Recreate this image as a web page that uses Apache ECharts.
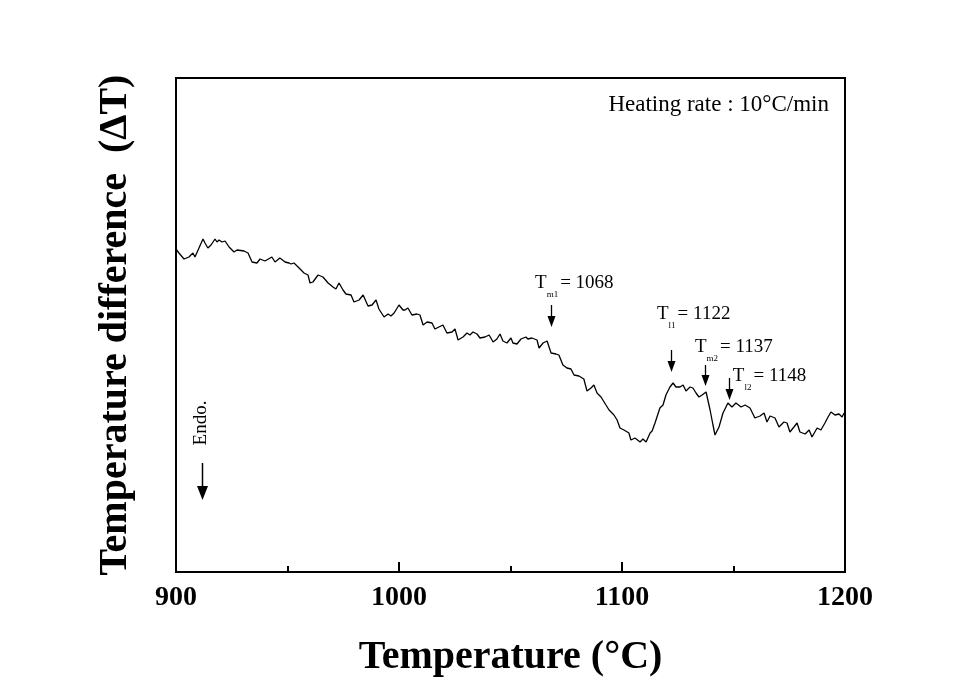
<!DOCTYPE html>
<html>
<head>
<meta charset="utf-8">
<script src="https://cdn.jsdelivr.net/npm/echarts@6/dist/echarts.min.js"></script>
<style>
html,body{margin:0;padding:0;background:#fff;}
#main{width:980px;height:685px;}
</style>
</head>
<body>
<div id="main"></div>
<script>
// ---- data (temperature in °C, ΔT in arbitrary units) ----
const temps = [900.0,901.3,903.6,905.8,907.6,908.5,910.3,912.1,913.0,914.3,
915.7,917.5,918.4,919.3,920.6,922.0,923.8,926.0,927.4,930.5,
932.3,934.1,936.3,937.7,939.9,943.0,944.4,946.6,948.9,950.7,
951.6,952.9,955.2,957.4,959.2,960.1,961.4,963.7,965.9,968.2,
970.4,971.7,973.1,974.9,976.2,978.5,979.8,982.1,983.9,986.1,
987.9,989.7,991.0,993.3,995.1,996.4,997.8,1000.0,1001.8,1002.7,
1004.0,1005.8,1008.1,1009.4,1010.8,1012.6,1014.8,1016.1,1017.9,1019.7,
1021.5,1023.8,1025.1,1026.5,1028.7,1030.5,1031.8,1033.2,1035.0,1036.3,
1038.6,1040.4,1042.2,1043.9,1045.3,1046.6,1048.4,1050.2,1051.1,1052.9,
1054.7,1056.9,1057.8,1059.6,1061.9,1062.8,1064.6,1066.4,1068.2,1070.4,
1071.7,1073.5,1075.3,1077.1,1078.5,1080.7,1082.9,1084.3,1086.1,1087.4,
1088.8,1090.6,1092.8,1094.2,1096.4,1097.8,1099.1,1100.9,1103.1,1104.0,
1105.8,1108.1,1109.4,1110.8,1112.6,1113.5,1114.8,1117.0,1118.4,1119.7,
1121.5,1122.9,1124.2,1126.0,1127.4,1128.7,1130.5,1131.8,1133.2,1134.5,
1135.9,1137.7,1139.5,1140.8,1141.7,1143.5,1145.3,1147.5,1149.3,1151.1,
1153.4,1155.2,1157.4,1159.6,1161.9,1163.7,1165.0,1166.4,1168.6,1170.4,
1172.6,1174.0,1175.3,1177.1,1178.5,1179.8,1182.1,1183.9,1185.2,1187.5,
1189.2,1191.0,1192.4,1193.7,1195.5,1197.3,1198.7,1199.6];

const dT = [323,319,313,315,319,315,324,333,329,324,
327,333,330,332,330,331,325,320,322,321,
319,310,309,313,311,315,310,314,310,309,
308,309,304,299,297,289,290,297,295,289,
285,283,289,282,278,277,270,272,277,266,
267,272,263,255,258,256,259,267,262,262,
264,257,258,257,247,250,249,243,245,247,
239,240,243,232,235,239,237,240,238,234,
235,237,230,233,238,231,229,234,229,228,
233,235,233,234,232,224,229,231,219,218,
217,207,204,203,197,196,193,181,184,187,
179,175,167,162,157,152,144,142,139,132,
134,130,133,130,139,141,149,164,167,177,
185,189,185,185,187,181,185,184,179,175,
177,180,162,147,137,145,159,169,165,169,
165,167,164,154,156,159,150,156,154,145,
150,149,140,145,149,140,138,142,135,144,
142,149,155,160,157,158,155,159];

const xTickLabels = [900, 1000, 1100, 1200];
const yRange = [0, 494];

// annotations
const annotTemps = [1068, 1122, 1137, 1148];
const annotSubs = ['m1', 'l1', 'm2', 'l2'];
const annotTexts = ['= 1068', '= 1122', '= 1137', '= 1148'];

// annotation placement (data coordinates)
const arrowTop = [267, 222, 207, 194];
const arrowBottom = [245, 200, 186, 172];
const labelAt = [[1061.0, 289], [1115.7, 258], [1132.7, 225], [1149.7, 196]];

const SERIF = '"Liberation Serif", "Times New Roman", serif';

const chart = echarts.init(document.getElementById('main'), null, {renderer: 'canvas'});

const option = {
  backgroundColor: '#fff',
  animation: false,
  grid: {
    left: 176, top: 78, right: 135, bottom: 113,
    show: true, borderColor: '#000', borderWidth: 2, backgroundColor: 'transparent'
  },
  xAxis: {
    type: 'value',
    min: xTickLabels[0],
    max: xTickLabels[xTickLabels.length - 1],
    interval: xTickLabels[1] - xTickLabels[0],
    axisLine: {show: true, onZero: false, lineStyle: {color: '#000', width: 2}},
    axisTick: {show: true, inside: true, length: 10, lineStyle: {color: '#000', width: 2}},
    minorTick: {show: true, splitNumber: 2, length: 6, lineStyle: {color: '#000', width: 2}},
    splitLine: {show: false},
    minorSplitLine: {show: false},
    axisLabel: {
      color: '#000', fontFamily: SERIF, fontWeight: 'bold', fontSize: 28, margin: 12,
      formatter: function (v) { return String(v); }
    },
    name: 'Temperature (\u00B0C)',
    nameLocation: 'middle',
    nameGap: 66,
    nameTextStyle: {color: '#000', fontFamily: SERIF, fontWeight: 'bold', fontSize: 40}
  },
  yAxis: {
    type: 'value',
    min: yRange[0],
    max: yRange[1],
    axisLine: {show: true, lineStyle: {color: '#000', width: 2}},
    axisTick: {show: false},
    axisLabel: {show: false},
    splitLine: {show: false},
    name: 'Temperature difference  (\u0394T)',
    nameLocation: 'middle',
    nameGap: 40,
    nameTextStyle: {color: '#000', fontFamily: SERIF, fontWeight: 'bold', fontSize: 40}
  },
  series: [{
    type: 'line',
    data: temps.map((t, i) => [t, dT[i]]),
    showSymbol: false,
    symbol: 'none',
    lineStyle: {color: '#000', width: 1.3},
    silent: true
  }]
};

chart.setOption(option);

// measure helper for placing the "= value" text after a subscript
const mctx = document.createElement('canvas').getContext('2d');
function textWidth(str, font) { mctx.font = font; return mctx.measureText(str).width; }

const mainFont = '19px ' + SERIF;
const subFont = '9px ' + SERIF;

const graphics = [];
annotTemps.forEach((t, i) => {
  const pTop = chart.convertToPixel({gridIndex: 0}, [t, arrowTop[i]]);
  const pBot = chart.convertToPixel({gridIndex: 0}, [t, arrowBottom[i]]);
  const x = Math.round(pTop[0]) + 0.5;
  graphics.push({
    type: 'line', silent: true,
    shape: {x1: x, y1: pTop[1], x2: x, y2: pBot[1] - 6},
    style: {stroke: '#000', lineWidth: 1.3}
  });
  graphics.push({
    type: 'polygon', silent: true,
    shape: {points: [[x - 4, pBot[1] - 11], [x + 4, pBot[1] - 11], [x, pBot[1]]]},
    style: {fill: '#000'}
  });
  const lp = chart.convertToPixel({gridIndex: 0}, labelAt[i]);
  const tW = textWidth('T', mainFont);
  const sW = textWidth(annotSubs[i], subFont);
  graphics.push({
    type: 'text', silent: true, x: lp[0], y: lp[1],
    style: {text: 'T', font: mainFont, fill: '#000', align: 'left', verticalAlign: 'middle'}
  });
  graphics.push({
    type: 'text', silent: true, x: lp[0] + tW, y: lp[1] + 12,
    style: {text: annotSubs[i], font: subFont, fill: '#000', align: 'left', verticalAlign: 'middle'}
  });
  graphics.push({
    type: 'text', silent: true, x: lp[0] + tW + sW + 2, y: lp[1],
    style: {text: annotTexts[i], font: mainFont, fill: '#000', align: 'left', verticalAlign: 'middle'}
  });
});

// heating rate note
graphics.push({
  type: 'text', silent: true, x: 829, y: 105,
  style: {text: 'Heating rate : 10\u00B0C/min', font: '23px ' + SERIF, fill: '#000', align: 'right', verticalAlign: 'middle'}
});

// Endo. marker
graphics.push({
  type: 'text', silent: true, x: 201, y: 423, rotation: Math.PI / 2,
  style: {text: 'Endo.', font: '19px ' + SERIF, fill: '#000', align: 'center', verticalAlign: 'middle'}
});
graphics.push({
  type: 'line', silent: true,
  shape: {x1: 202.5, y1: 463, x2: 202.5, y2: 490},
  style: {stroke: '#000', lineWidth: 1.5}
});
graphics.push({
  type: 'polygon', silent: true,
  shape: {points: [[197, 486], [208, 486], [202.5, 500]]},
  style: {fill: '#000'}
});

chart.setOption({graphic: graphics});
</script>
</body>
</html>
